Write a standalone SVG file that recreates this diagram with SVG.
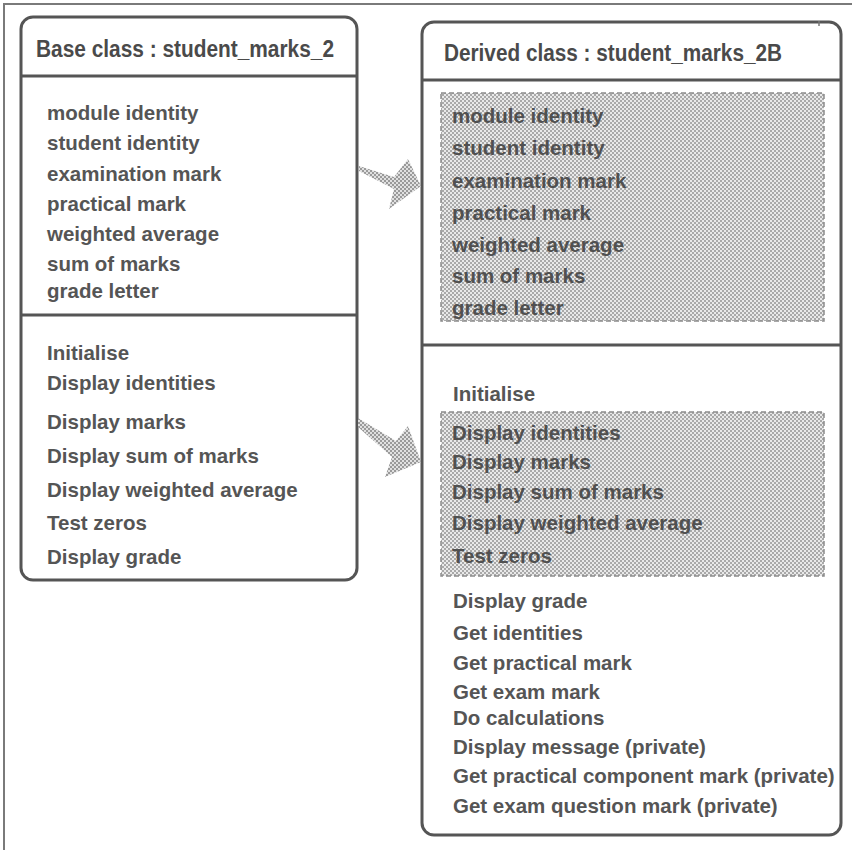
<svg xmlns="http://www.w3.org/2000/svg" width="852" height="850" viewBox="0 0 852 850">
  <defs>
    <!-- dithered grey used for inherited members -->
    <pattern id="dither" width="4" height="4" patternUnits="userSpaceOnUse">
      <rect width="4" height="4" fill="#e9e9e9"/>
      <rect width="2" height="2" fill="#a9a9a9"/>
      <rect x="2" y="2" width="2" height="2" fill="#a9a9a9"/>
    </pattern>
    <pattern id="ditherDark" width="4" height="4" patternUnits="userSpaceOnUse">
      <rect width="4" height="4" fill="#e0e0e0"/>
      <rect width="2" height="2" fill="#9a9a9a"/>
      <rect x="2" y="2" width="2" height="2" fill="#9a9a9a"/>
    </pattern>
  </defs>
  <style>
    .frame { fill: none; stroke: #7a7a7a; stroke-width: 2; }
    .box { fill: #ffffff; stroke: #555555; stroke-width: 3; }
    .divider { stroke: #555555; stroke-width: 3; }
    .shade { fill: url(#dither); stroke: #8c8c8c; stroke-width: 1.5; stroke-dasharray: 5 3; }
    .title { font-family: "Liberation Sans", Arial, sans-serif; font-size: 23px; font-weight: bold; fill: #4a4a4a; }
    .item { font-family: "Liberation Sans", Arial, sans-serif; font-size: 20.5px; font-weight: bold; fill: #555555; }
    .inherited { fill: #505050; }
    .arrow { fill: url(#ditherDark); stroke: none; }
  </style>

  <rect width="852" height="850" fill="#ffffff"/>

  <!-- page frame -->
  <path class="frame" d="M4,850 V4 H852"/>

  <!-- base class -->
  <g id="base-class">
    <rect class="box" x="21" y="17" width="336" height="563" rx="12" ry="12"/>
    <line class="divider" x1="21" y1="76" x2="357" y2="76"/>
    <line class="divider" x1="21" y1="315" x2="357" y2="315"/>
    <text class="title" x="36" y="57" textLength="298" lengthAdjust="spacingAndGlyphs">Base class : student_marks_2</text>
    <text class="item" x="47" y="120">module identity</text>
    <text class="item" x="47" y="150">student identity</text>
    <text class="item" x="47" y="181">examination mark</text>
    <text class="item" x="47" y="211">practical mark</text>
    <text class="item" x="47" y="241">weighted average</text>
    <text class="item" x="47" y="271">sum of marks</text>
    <text class="item" x="47" y="298">grade letter</text>
    <text class="item" x="47" y="360">Initialise</text>
    <text class="item" x="47" y="390">Display identities</text>
    <text class="item" x="47" y="429">Display marks</text>
    <text class="item" x="47" y="463">Display sum of marks</text>
    <text class="item" x="47" y="497">Display weighted average</text>
    <text class="item" x="47" y="530">Test zeros</text>
    <text class="item" x="47" y="564">Display grade</text>
  </g>

  <!-- derived class -->
  <g id="derived-class">
    <rect class="box" x="422" y="22" width="419" height="813" rx="12" ry="12"/>
    <line x1="819" y1="21" x2="819" y2="26" stroke="#777777" stroke-width="1.5"/>
    <line class="divider" x1="422" y1="80" x2="841" y2="80"/>
    <line class="divider" x1="422" y1="345" x2="841" y2="345"/>
    <text class="title" x="444" y="61" textLength="338" lengthAdjust="spacingAndGlyphs">Derived class : student_marks_2B</text>

    <rect class="shade" x="441" y="93" width="383" height="228"/>
    <text class="item inherited" x="452" y="123">module identity</text>
    <text class="item inherited" x="452" y="155">student identity</text>
    <text class="item inherited" x="452" y="188">examination mark</text>
    <text class="item inherited" x="452" y="220">practical mark</text>
    <text class="item inherited" x="452" y="252">weighted average</text>
    <text class="item inherited" x="452" y="283">sum of marks</text>
    <text class="item inherited" x="452" y="315">grade letter</text>

    <text class="item" x="453" y="401">Initialise</text>
    <rect class="shade" x="441" y="412" width="383" height="164"/>
    <text class="item inherited" x="452" y="440">Display identities</text>
    <text class="item inherited" x="452" y="469">Display marks</text>
    <text class="item inherited" x="452" y="499">Display sum of marks</text>
    <text class="item inherited" x="452" y="530">Display weighted average</text>
    <text class="item inherited" x="452" y="563">Test zeros</text>
    <text class="item" x="453" y="608">Display grade</text>
    <text class="item" x="453" y="640">Get identities</text>
    <text class="item" x="453" y="670">Get practical mark</text>
    <text class="item" x="453" y="699">Get exam mark</text>
    <text class="item" x="453" y="725">Do calculations</text>
    <text class="item" x="453" y="754">Display message (private)</text>
    <text class="item" x="453" y="783">Get practical component mark (private)</text>
    <text class="item" x="453" y="813">Get exam question mark (private)</text>
  </g>

  <!-- inheritance arrows -->
  <g id="connectors">
    <polygon class="arrow" points="359,166 394,177 408,159 421,186 389,209 394,189 359,171"/>
    <polygon class="arrow" points="358,418 396,441 408,426 421,462 385,477 392,457 358,427"/>
  </g>
</svg>
